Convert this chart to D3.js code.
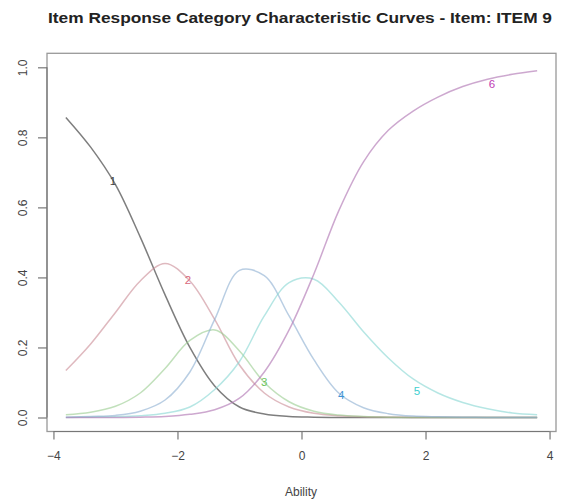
<!DOCTYPE html>
<html>
<head>
<meta charset="utf-8">
<script src="https://cdn.jsdelivr.net/npm/d3@7"></script>
<style>
  body { margin: 0; background: #fff; }
  svg { display: block; font-family: "Liberation Sans", Arial, sans-serif; }
</style>
</head>
<body>
<div id="chart"></div>
<script>
// ability grid (x) and category probabilities
const ability = [-3.8, -3.4, -3.0, -2.6, -2.2, -1.8, -1.4, -1.0, -0.6, -0.2,
                 0.2, 0.6, 1.0, 1.4, 1.8, 2.2, 2.6, 3.0, 3.4, 3.8]
const cat1 = [0.857, 0.772, 0.665, 0.515, 0.35, 0.20, 0.09, 0.03, 0.01, 0.003,
              0.001, 0, 0, 0, 0, 0, 0, 0, 0, 0]
const cat2 = [0.134, 0.21, 0.30, 0.39, 0.44, 0.39, 0.28, 0.15, 0.07, 0.03,
              0.012, 0.005, 0.002, 0.001, 0, 0, 0, 0, 0, 0]
const cat3 = [0.008, 0.015, 0.032, 0.07, 0.14, 0.22, 0.25, 0.19, 0.10, 0.045,
              0.018, 0.007, 0.003, 0.001, 0, 0, 0, 0, 0, 0]
const cat4 = [0.001, 0.003, 0.006, 0.018, 0.05, 0.13, 0.28, 0.42, 0.405, 0.29,
              0.165, 0.07, 0.028, 0.011, 0.004, 0.002, 0.001, 0, 0, 0]
const cat5 = [0, 0.001, 0.002, 0.005, 0.012, 0.03, 0.08, 0.16, 0.29, 0.385,
              0.395, 0.33, 0.245, 0.17, 0.11, 0.07, 0.043, 0.025, 0.013, 0.008]
const cat6 = [0, 0, 0, 0.001, 0.003, 0.009, 0.022, 0.055, 0.13, 0.25,
              0.41, 0.59, 0.73, 0.82, 0.875, 0.915, 0.945, 0.966, 0.98, 0.99]
const categories = ['1', '2', '3', '4', '5', '6']
const series = [cat1, cat2, cat3, cat4, cat5, cat6]
// where the category numbers sit
const labelAbility = [-3.04, -1.83, -0.6, 0.64, 1.86, 3.07]
const labelProb = [0.674, 0.394, 0.10, 0.063, 0.077, 0.951]
const xTicks = [-4, -2, 0, 2, 4]
const yTicks = [0, 0.2, 0.4, 0.6, 0.8, 1.0]

const lineColors = ['#5e5e5e', '#c98a95', '#98cc8e', '#8aaed0', '#86d6d2', '#b27ab5']
const lineOpacity = [0.8, 0.6, 0.6, 0.6, 0.6, 0.65]
const textColors = ['#444444', '#d9687c', '#6cc45c', '#3f95d6', '#40cfcf', '#c03cb5']

const width = 561
const height = 500
const box = { left: 47, right: 556, top: 53.3, bottom: 431.5 }

const x = d3.scaleLinear().domain([-4.104, 4.104]).range([box.left, box.right])
const y = d3.scaleLinear().domain([-0.04, 1.04]).range([box.bottom, box.top])

const svg = d3.select('#chart').append('svg')
  .attr('width', width)
  .attr('height', height)

// title
svg.append('text')
  .attr('x', 300)
  .attr('y', 23)
  .attr('text-anchor', 'middle')
  .attr('font-size', '15px')
  .attr('font-weight', 'bold')
  .attr('fill', '#222')
  .attr('textLength', 504)
  .attr('lengthAdjust', 'spacingAndGlyphs')
  .text('Item Response Category Characteristic Curves - Item: ITEM 9')

// curves
const line = d3.line()
  .x(function (d) { return x(d[0]) })
  .y(function (d) { return y(d[1]) })
  .curve(d3.curveCatmullRom.alpha(0.5))

series.forEach(function (vals, i) {
  svg.append('path')
    .datum(ability.map(function (a, j) { return [a, vals[j]] }))
    .attr('d', line)
    .attr('fill', 'none')
    .attr('stroke', lineColors[i])
    .attr('stroke-opacity', lineOpacity[i])
    .attr('stroke-width', 1.5)
})

// category numbers
svg.selectAll('.lab')
  .data(categories)
  .enter()
  .append('text')
  .attr('class', 'lab')
  .attr('x', function (d, i) { return x(labelAbility[i]) })
  .attr('y', function (d, i) { return y(labelProb[i]) })
  .attr('dy', '0.35em')
  .attr('text-anchor', 'middle')
  .attr('font-size', '11.5px')
  .attr('fill', function (d, i) { return textColors[i] })
  .text(function (d) { return d })

// box
svg.append('rect')
  .attr('x', box.left)
  .attr('y', box.top)
  .attr('width', box.right - box.left)
  .attr('height', box.bottom - box.top)
  .attr('fill', 'none')
  .attr('stroke', '#999')
  .attr('stroke-width', 1.3)

// x axis
const xAxis = svg.append('g')
  .attr('transform', 'translate(0,' + box.bottom + ')')
  .call(d3.axisBottom(x).tickValues(xTicks).tickSize(8).tickPadding(12).tickFormat(d3.format('d')))
xAxis.select('.domain').attr('d', 'M' + x(-4) + ',0H' + x(4))

// y axis
const yAxis = svg.append('g')
  .attr('transform', 'translate(' + box.left + ',0)')
  .call(d3.axisLeft(y).tickValues(yTicks).tickSize(9).tickFormat(d3.format('.1f')))
yAxis.select('.domain').attr('d', 'M0,' + y(0) + 'V' + y(1))
yAxis.selectAll('.tick text')
  .attr('x', 0)
  .attr('y', 0)
  .attr('dy', 0)
  .attr('text-anchor', 'middle')
  .attr('transform', 'translate(-20,0) rotate(-90)')

svg.selectAll('.domain, .tick line').attr('stroke', '#777').attr('stroke-width', 1.2)
svg.selectAll('.tick text')
  .attr('font-size', '12px')
  .attr('fill', '#444')
  .attr('font-family', '"Liberation Sans", Arial, sans-serif')

// x label
svg.append('text')
  .attr('x', 301)
  .attr('y', 496)
  .attr('text-anchor', 'middle')
  .attr('font-size', '12px')
  .attr('fill', '#444')
  .text('Ability')
</script>
</body>
</html>
